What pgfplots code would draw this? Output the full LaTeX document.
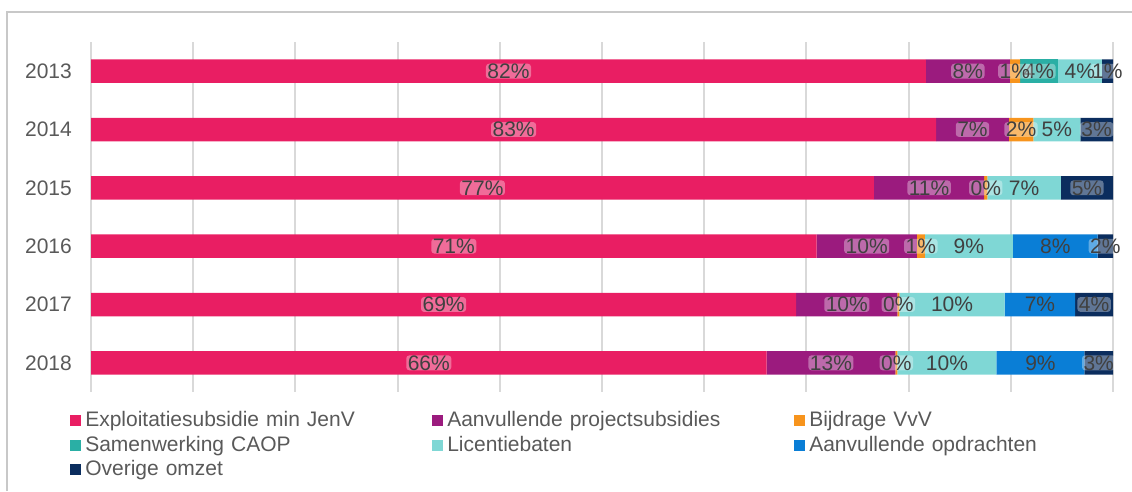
\documentclass[border=0pt]{standalone}
\usepackage{fontspec}
\setmainfont{Liberation Sans}
\usepackage{pgfplots}
\usepackage{pgfplotstable}
\pgfplotsset{compat=1.18}

\definecolor{cPink}{HTML}{E91E63}
\definecolor{cPurple}{HTML}{9B1B7E}
\definecolor{cOrange}{HTML}{F7941D}
\definecolor{cTeal}{HTML}{2AAFA5}
\definecolor{cLtTeal}{HTML}{7FD7D5}
\definecolor{cBlue}{HTML}{0A7ED6}
\definecolor{cNavy}{HTML}{0B2D5E}
\definecolor{cGrid}{HTML}{D9D9D9}
\definecolor{cFrame}{HTML}{C8C8C8}
\definecolor{cText}{HTML}{595959}
\definecolor{cLabel}{HTML}{404040}

% one table per series: y = year index (0 = 2013), v = share in %, lab = data label
\pgfplotstableread{
y v lab
0 81.7 82\%
1 82.7 83\%
2 76.6 77\%
3 71.0 71\%
4 69.0 69\%
5 66.1 66\%
}\exploitatie
\pgfplotstableread{
y v lab
0 8.2 8\%
1 7.1 7\%
2 10.8 11\%
3 9.8 10\%
4 9.9 10\%
5 12.6 13\%
}\projectsub
\pgfplotstableread{
y v lab
0 1.0 1\%
1 2.4 2\%
2 0.3 0\%
3 0.8 1\%
4 0.2 0\%
5 0.2 0\%
}\bijdrage
\pgfplotstableread{
y v lab
0 3.7 4\%
1 0 {}
2 0 {}
3 0 {}
4 0 {}
5 0 {}
}\caop
\pgfplotstableread{
y v lab
0 4.3 4\%
1 4.6 5\%
2 7.2 7\%
3 8.6 9\%
4 10.3 10\%
5 9.7 10\%
}\licentie
\pgfplotstableread{
y v lab
0 0 {}
1 0 {}
2 0 {}
3 8.3 8\%
4 6.9 7\%
5 8.6 9\%
}\opdrachten
\pgfplotstableread{
y v lab
0 1.1 1\%
1 3.2 3\%
2 5.1 5\%
3 1.5 2\%
4 3.7 4\%
5 2.8 3\%
}\overige

\pgfplotsset{
  halo/.style={every node near coord/.append style={fill=white, fill opacity=0.35, text opacity=1, rounded corners=3pt}},
}

\begin{document}
\fontsize{21}{25}\selectfont
\begin{tikzpicture}
\path[use as bounding box] (0,0) rectangle (1132pt,491pt);
\draw[cFrame, line width=1.5pt] (7pt,0) -- (7pt,479pt) -- (1132pt,479pt);
\begin{axis}[
    at={(91pt,99pt)}, anchor=south west,
    width=1022pt, height=350pt, scale only axis,
    xbar stacked, bar width=23.5pt,
    xmin=0, xmax=100,
    ymin=-0.5, ymax=5.5, y dir=reverse,
    xtick={0,10,...,100}, xticklabels={},
    ytick={0,1,2,3,4,5},
    yticklabels={2013,2014,2015,2016,2017,2018},
    xmajorgrids, grid style={cGrid, line width=2pt},
    axis line style={draw=none}, tick style={draw=none}, major tick length=0pt,
    yticklabel style={inner sep=0pt, xshift=-19pt, text=cText, font=\fontsize{21}{25}\selectfont},
    point meta=explicit symbolic,
    nodes near coords,
    % stacked bars: the label lands in the middle of its segment
    every node near coord/.append style={anchor=center,
      text=cLabel, font=\fontsize{21}{25}\selectfont,
      inner xsep=1.5pt, inner ysep=0pt},
    legend columns=3,
    legend style={
      at={(axis description cs:-0.0205,-0.0555)}, anchor=north west,
      draw=none, fill=none, inner sep=0pt, row sep=6pt,
      nodes={inner sep=0pt, anchor=west, text width=347pt, text=cText,
        font=\fontsize{21}{25}\selectfont},
      /tikz/every odd column/.append style={column sep=4pt},
    },
    legend image code/.code={\fill[#1] (0pt,-5.5pt) rectangle (11pt,5.5pt);},
  ]
  \addplot[fill=cPink, draw=none, halo] table[x=v, y=y, meta=lab] {\exploitatie};
  \addplot[fill=cPurple, draw=none, halo] table[x=v, y=y, meta=lab] {\projectsub};
  \addplot[fill=cOrange, draw=none, halo] table[x=v, y=y, meta=lab] {\bijdrage};
  \addplot[fill=cTeal, draw=none, halo] table[x=v, y=y, meta=lab] {\caop};
  \addplot[fill=cLtTeal, draw=none] table[x=v, y=y, meta=lab] {\licentie};
  \addplot[fill=cBlue, draw=none] table[x=v, y=y, meta=lab] {\opdrachten};
  \addplot[fill=cNavy, draw=none, halo] table[x=v, y=y, meta=lab] {\overige};
  \legend{Exploitatiesubsidie min JenV, Aanvullende projectsubsidies, Bijdrage VvV,
    Samenwerking CAOP, Licentiebaten, Aanvullende opdrachten, Overige omzet}
\end{axis}
\end{tikzpicture}
\end{document}
